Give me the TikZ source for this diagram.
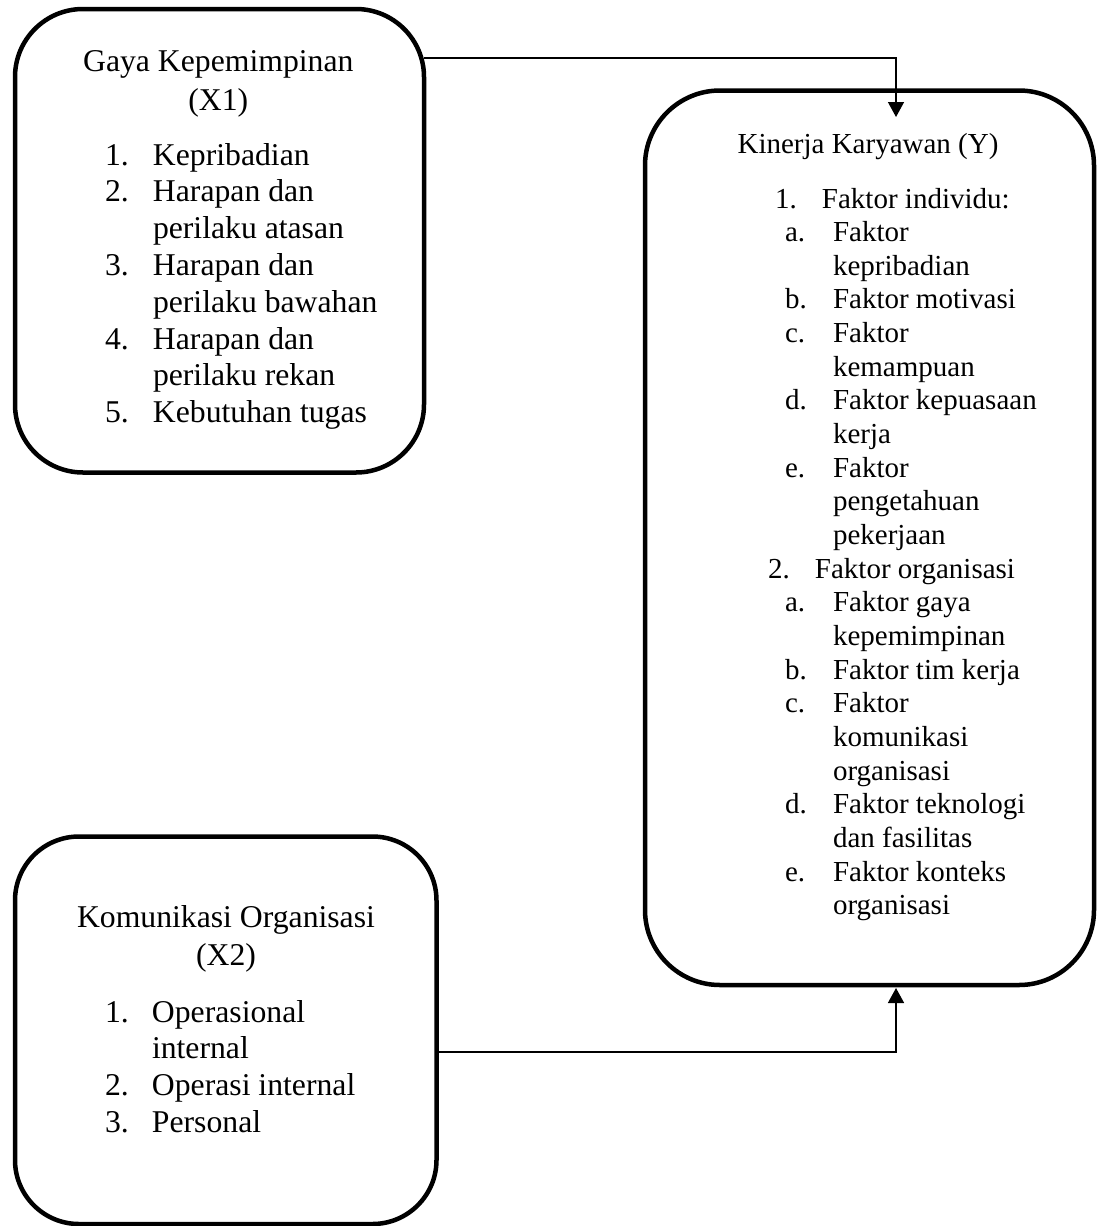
\documentclass[tikz,border=0pt]{standalone}
\usepackage{fontspec}
\setmainfont{Liberation Serif}
\usetikzlibrary{arrows.meta}
\begin{document}
\begin{tikzpicture}[x=1pt,y=-1pt,
  box/.style={draw, line width=4.5pt, rectangle, rounded corners=#1, inner sep=0pt, outer sep=0pt, anchor=north west},
  conn/.style={draw, line width=1.5pt, -{Triangle[length=15pt,width=16pt]}},
  txtA/.style={font=\fontsize{31.7}{36.8}\selectfont, inner sep=0pt, outer sep=0pt},
  txtB/.style={font=\fontsize{29}{33.65}\selectfont, inner sep=0pt, outer sep=0pt}]
\useasboundingbox (0,0) rectangle (1101,1226);

% boxes
\node[box=68pt, minimum width=409pt, minimum height=463.5pt] (x1) at (15,9) {};
\node[box=75pt, minimum width=449pt, minimum height=894.5pt] (y) at (645,90.5) {};
\node[box=64pt, minimum width=421.5pt, minimum height=387.5pt] (x2) at (15,836.5) {};

% X1 text
\node[txtA, anchor=base] (x1h) at (218.3,71) {Gaya Kepemimpinan};
\node[txtA, anchor=base] (x1v) at (218.3,110) {(X1)};
\node[txtA, anchor=base west] (x1l) at (105,165) {\begin{tabular}[t]{@{}l@{}}
\makebox[48pt][l]{1.}Kepribadian\\
\makebox[48pt][l]{2.}Harapan dan\\
\makebox[48pt][l]{}perilaku atasan\\
\makebox[48pt][l]{3.}Harapan dan\\
\makebox[48pt][l]{}perilaku bawahan\\
\makebox[48pt][l]{4.}Harapan dan\\
\makebox[48pt][l]{}perilaku rekan\\
\makebox[48pt][l]{5.}Kebutuhan tugas
\end{tabular}};

% Y text
\node[txtB, anchor=base] (yh) at (868,153) {Kinerja Karyawan (Y)};
\node[txtB, anchor=base west] (yl) at (768,208) {\begin{tabular}[t]{@{}l@{}}
\hspace*{7pt}\makebox[47pt][l]{1.}Faktor individu:\\
\hspace*{17pt}\makebox[48pt][l]{a.}Faktor\\
\hspace*{65pt}kepribadian\\
\hspace*{17pt}\makebox[48pt][l]{b.}Faktor motivasi\\
\hspace*{17pt}\makebox[48pt][l]{c.}Faktor\\
\hspace*{65pt}kemampuan\\
\hspace*{17pt}\makebox[48pt][l]{d.}Faktor kepuasaan\\
\hspace*{65pt}kerja\\
\hspace*{17pt}\makebox[48pt][l]{e.}Faktor\\
\hspace*{65pt}pengetahuan\\
\hspace*{65pt}pekerjaan\\
\makebox[47pt][l]{2.}Faktor organisasi\\
\hspace*{17pt}\makebox[48pt][l]{a.}Faktor gaya\\
\hspace*{65pt}kepemimpinan\\
\hspace*{17pt}\makebox[48pt][l]{b.}Faktor tim kerja\\
\hspace*{17pt}\makebox[48pt][l]{c.}Faktor\\
\hspace*{65pt}komunikasi\\
\hspace*{65pt}organisasi\\
\hspace*{17pt}\makebox[48pt][l]{d.}Faktor teknologi\\
\hspace*{65pt}dan fasilitas\\
\hspace*{17pt}\makebox[48pt][l]{e.}Faktor konteks\\
\hspace*{65pt}organisasi
\end{tabular}};

% X2 text
\node[txtA, anchor=base] (x2h) at (226,927) {Komunikasi Organisasi};
\node[txtA, anchor=base] (x2v) at (226,965) {(X2)};
\node[txtA, anchor=base west] (x2l) at (105,1022) {\begin{tabular}[t]{@{}l@{}}
\makebox[47pt][l]{1.}Operasional\\
\makebox[47pt][l]{}internal\\
\makebox[47pt][l]{2.}Operasi internal\\
\makebox[47pt][l]{3.}Personal
\end{tabular}};

% connectors
\coordinate (ytop) at (896,117);
\coordinate (ybot) at (896,988);
\draw[conn] (x1.east |- 0,58) -| (ytop);
\draw[conn] (x2.east |- 0,1052) -| (ybot);
\end{tikzpicture}
\end{document}
